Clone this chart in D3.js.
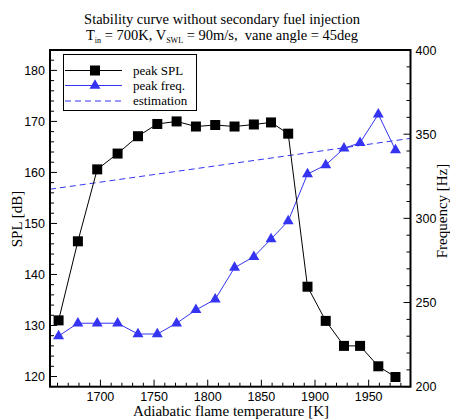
<!DOCTYPE html>
<html>
<head>
<meta charset="utf-8">
<script src="https://cdn.jsdelivr.net/npm/d3@7"></script>
<style>
  html, body { margin: 0; padding: 0; background: #fff; }
  svg { display: block; }
</style>
</head>
<body>
<svg id="chart" width="450" height="419"></svg>
<script>
// Adiabatic flame temperature [K] of each operating point
const temps = [1661, 1679, 1697, 1716, 1735, 1753, 1771, 1789, 1807, 1825,
               1843, 1859, 1875, 1893, 1910, 1927, 1942, 1959, 1975];
// Peak sound pressure level [dB]
const peakSPL = [131.0, 146.5, 160.6, 163.7, 167.1, 169.5, 170.0, 169.0, 169.3, 169.0,
                 169.4, 169.8, 167.6, 137.6, 130.9, 126.0, 126.0, 122.0, 119.9];
// Peak frequency [Hz]
const peakFreq = [230.1, 237.7, 237.7, 237.7, 231.3, 231.3, 237.7, 245.6, 251.9, 270.7,
                  277.2, 287.7, 298.4, 326.3, 331.7, 341.6, 344.9, 361.8, 340.6];
// Estimated frequency [Hz] across the temperature range
const estTemps = [1653, 1989];
const estFreq = [317.3, 347.5];

const xTicks = [1700, 1750, 1800, 1850, 1900, 1950];
const splTicks = [120, 130, 140, 150, 160, 170, 180];
const freqTicks = [200, 250, 300, 350, 400];

const svg = d3.select("#chart");
const L = 50, T = 50, R = 410.5, B = 386.7;

const x = d3.scaleLinear().domain([1653, 1989]).range([L, R]);
const yL = d3.scaleLinear().domain([118, 184]).range([B, T]);
const yR = d3.scaleLinear().domain([200, 400]).range([B, T]);

const serif = "'Liberation Serif', 'Times New Roman', serif";
const sans = "'Liberation Sans', Arial, sans-serif";
const blue = "#3434f2";

// Title
const title = svg.append("text").attr("x", 222).attr("y", 24)
  .attr("text-anchor", "middle").attr("font-family", serif).attr("font-size", 14.5);
title.text("Stability curve without secondary fuel injection");
const t2 = svg.append("text").attr("x", 222).attr("y", 39.5)
  .attr("text-anchor", "middle").attr("font-family", serif).attr("font-size", 14.5);
t2.append("tspan").text("T");
t2.append("tspan").attr("font-size", 8).attr("dy", 3).text("in");
t2.append("tspan").attr("dy", -3).text(" = 700K, V");
t2.append("tspan").attr("font-size", 8).attr("dy", 3).text("SWL");
t2.append("tspan").attr("dy", -3).text(" = 90m/s,\u00a0 vane angle = 45deg");

// Clip for plotted lines
svg.append("clipPath").attr("id", "plotclip").append("rect")
  .attr("x", L).attr("y", T).attr("width", R - L).attr("height", B - T);

// Axes (ticks point inward, tick labels outside)
function minorTicks(scale, step) {
  const [a, b] = scale.domain();
  const out = [];
  for (let v = Math.ceil(a / step) * step; v <= b + 1e-9; v += step) out.push(+v.toFixed(6));
  return out;
}

// Bottom axis
const gx = svg.append("g");
minorTicks(x, 10).forEach(v => {
  const major = v % 50 === 0;
  gx.append("line").attr("x1", x(v)).attr("x2", x(v))
    .attr("y1", B).attr("y2", B - (major ? 7 : 4))
    .attr("stroke", "#000").attr("stroke-width", 1);
});
xTicks.forEach(v => {
  gx.append("text").attr("x", x(v)).attr("y", B + 14).attr("text-anchor", "middle")
    .attr("font-family", sans).attr("font-size", 12.5).text(v);
});

// Left axis
const gl = svg.append("g");
minorTicks(yL, 2).forEach(v => {
  const major = v % 10 === 0;
  gl.append("line").attr("x1", L).attr("x2", L + (major ? 7 : 4))
    .attr("y1", yL(v)).attr("y2", yL(v))
    .attr("stroke", "#000").attr("stroke-width", 1);
});
splTicks.forEach(v => {
  gl.append("text").attr("x", L - 5).attr("y", yL(v) + 4.5).attr("text-anchor", "end")
    .attr("font-family", sans).attr("font-size", 12.5).text(v);
});

// Right axis
const gr = svg.append("g");
minorTicks(yR, 10).forEach(v => {
  const major = v % 50 === 0;
  gr.append("line").attr("x1", R).attr("x2", R - (major ? 7 : 4))
    .attr("y1", yR(v)).attr("y2", yR(v))
    .attr("stroke", "#000").attr("stroke-width", 1);
});
freqTicks.forEach(v => {
  gr.append("text").attr("x", R + 5).attr("y", yR(v) + 4.5).attr("text-anchor", "start")
    .attr("font-family", sans).attr("font-size", 12.5).text(v);
});

// Axis titles
svg.append("text").attr("x", 231).attr("y", 416).attr("text-anchor", "middle")
  .attr("font-family", serif).attr("font-size", 15).text("Adiabatic flame temperature [K]");
svg.append("text").attr("transform", `translate(22,219) rotate(-90)`)
  .attr("text-anchor", "middle").attr("font-family", serif).attr("font-size", 15).text("SPL [dB]");
svg.append("text").attr("transform", `translate(446.5,211) rotate(-90)`)
  .attr("text-anchor", "middle").attr("font-family", serif).attr("font-size", 15).text("Frequency [Hz]");

// Data layers
const plot = svg.append("g").attr("clip-path", "url(#plotclip)");

const estLine = d3.line().x((d, i) => x(estTemps[i])).y(d => yR(d));
plot.append("path").attr("d", estLine(estFreq)).attr("fill", "none")
  .attr("stroke", blue).attr("stroke-width", 1).attr("stroke-dasharray", "6,4");

const freqLine = d3.line().x((d, i) => x(temps[i])).y(d => yR(d));
plot.append("path").attr("d", freqLine(peakFreq)).attr("fill", "none")
  .attr("stroke", blue).attr("stroke-width", 1);

const splLine = d3.line().x((d, i) => x(temps[i])).y(d => yL(d));
plot.append("path").attr("d", splLine(peakSPL)).attr("fill", "none")
  .attr("stroke", "#000").attr("stroke-width", 1);

const tri = d3.symbol().type(d3.symbolTriangle).size(52);
svg.append("g").selectAll("path").data(peakFreq).join("path")
  .attr("d", tri)
  .attr("transform", (d, i) => `translate(${x(temps[i])},${yR(d)})`)
  .attr("fill", blue);

svg.append("g").selectAll("rect").data(peakSPL).join("rect")
  .attr("x", (d, i) => x(temps[i]) - 5).attr("y", d => yL(d) - 5)
  .attr("width", 10).attr("height", 10).attr("fill", "#000");

// Frame
svg.append("rect").attr("x", L).attr("y", T).attr("width", R - L).attr("height", B - T)
  .attr("fill", "none").attr("stroke", "#000").attr("stroke-width", 2);

// Legend
const lg = svg.append("g");
lg.append("rect").attr("x", 63.5).attr("y", 54.5).attr("width", 133).attr("height", 56)
  .attr("fill", "#fff").attr("stroke", "#000").attr("stroke-width", 1);
const items = [
  { label: "peak SPL", color: "#000", dash: null, mark: "sq", y: 70.5 },
  { label: "peak freq.", color: blue, dash: null, mark: "tri", y: 85.5 },
  { label: "estimation", color: blue, dash: "6,4", mark: null, y: 101 }
];
items.forEach(it => {
  lg.append("line").attr("x1", 65).attr("x2", 122).attr("y1", it.y).attr("y2", it.y)
    .attr("stroke", it.color).attr("stroke-width", 1).attr("stroke-dasharray", it.dash);
  if (it.mark === "sq") {
    lg.append("rect").attr("x", 90).attr("y", it.y - 5).attr("width", 10).attr("height", 10).attr("fill", "#000");
  } else if (it.mark === "tri") {
    lg.append("path").attr("d", tri).attr("transform", `translate(95,${it.y})`).attr("fill", blue);
  }
  lg.append("text").attr("x", 133).attr("y", it.y + 4).attr("font-family", serif)
    .attr("font-size", 13).text(it.label);
});
</script>
</body>
</html>
